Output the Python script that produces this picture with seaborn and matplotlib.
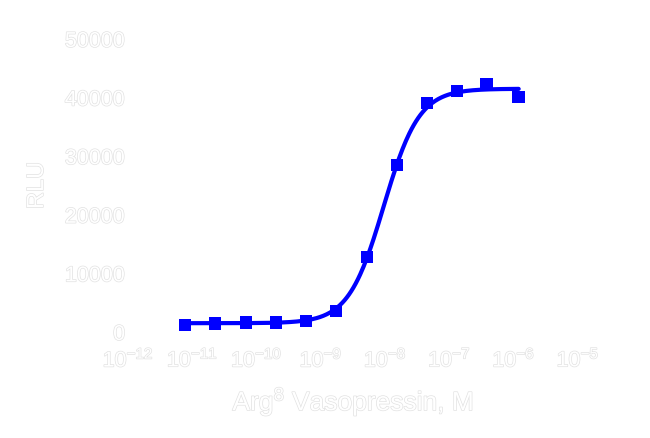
import numpy as np
import pandas as pd
import matplotlib
matplotlib.use("Agg")
import matplotlib.pyplot as plt
import matplotlib.patheffects as pe
import seaborn as sns

# datos (concentracion en M, respuesta en RLU)
conc = [7.7e-12, 2.25e-11, 6.8e-11, 2.0e-10, 5.9e-10, 1.72e-9,
        5.2e-9, 1.52e-8, 4.5e-8, 1.31e-7, 3.8e-7, 1.2e-6]
rlu = [1200, 1480, 1650, 1620, 1880, 3580,
       12800, 28500, 39100, 41100, 42300, 40100]
# parametros del ajuste sigmoide (4 parametros)
bottom, top, log_ec50, hill = 1500, 41500, -8.02, 1.58

x_ticks = [1e-12, 1e-11, 1e-10, 1e-9, 1e-8, 1e-7, 1e-6, 1e-5]
x_ticklabels = ["$10^{-12}$", "$10^{-11}$", "$10^{-10}$", "$10^{-9}$",
                "$10^{-8}$", "$10^{-7}$", "$10^{-6}$", "$10^{-5}$"]
y_ticks = [0, 10000, 20000, 30000, 40000, 50000]

df = pd.DataFrame({"conc": conc, "rlu": rlu})
xs = np.logspace(np.log10(conc[0]), np.log10(conc[-1]), 300)
curva = pd.DataFrame({"conc": xs,
                      "rlu": bottom + (top - bottom) / (1 + 10 ** ((log_ec50 - np.log10(xs)) * hill))})

sns.set_style("white")
plt.rcParams["font.family"] = ["Liberation Sans", "DejaVu Sans"]
plt.rcParams["mathtext.fontset"] = "custom"
plt.rcParams["mathtext.rm"] = "Liberation Sans"
plt.rcParams["mathtext.it"] = "Liberation Sans:italic"

fig = plt.figure(figsize=(6.5, 4.39), dpi=100)
ax = fig.add_axes([0.197, 0.2415, 0.692, 0.6675])

sns.lineplot(data=curva, x="conc", y="rlu", color="#0000ff", linewidth=3, ax=ax)
sns.scatterplot(data=df, x="conc", y="rlu", color="#0000ff", marker="s", s=80,
                edgecolor="none", ax=ax, zorder=3)

ax.set_xscale("log")
ax.set_xlim(1e-12, 1e-5)
ax.set_ylim(0, 50000)
ax.set_xticks(x_ticks)
ax.set_xticklabels(x_ticklabels)
ax.minorticks_off()
ax.set_yticks(y_ticks)
ax.set_yticklabels([str(v) for v in y_ticks])
ax.tick_params(length=0, labelsize=15.5, labelcolor="white")
ax.tick_params(axis="x", pad=12)
ax.tick_params(axis="y", pad=2)
for s in ax.spines.values():
    s.set_visible(False)

ax.set_xlabel("Arg$^8$ Vasopressin, M", fontsize=19, color="white", labelpad=10)
ax.set_ylabel("RLU", fontsize=17, color="white")
ax.yaxis.set_label_coords(-0.178, 0.5)

contorno = [pe.withStroke(linewidth=1.0, foreground="#e2e2e2")]
for t in ax.get_xticklabels() + ax.get_yticklabels() + [ax.xaxis.label, ax.yaxis.label]:
    t.set_path_effects(contorno)

fig.savefig("out.png", dpi=100, facecolor="white")
